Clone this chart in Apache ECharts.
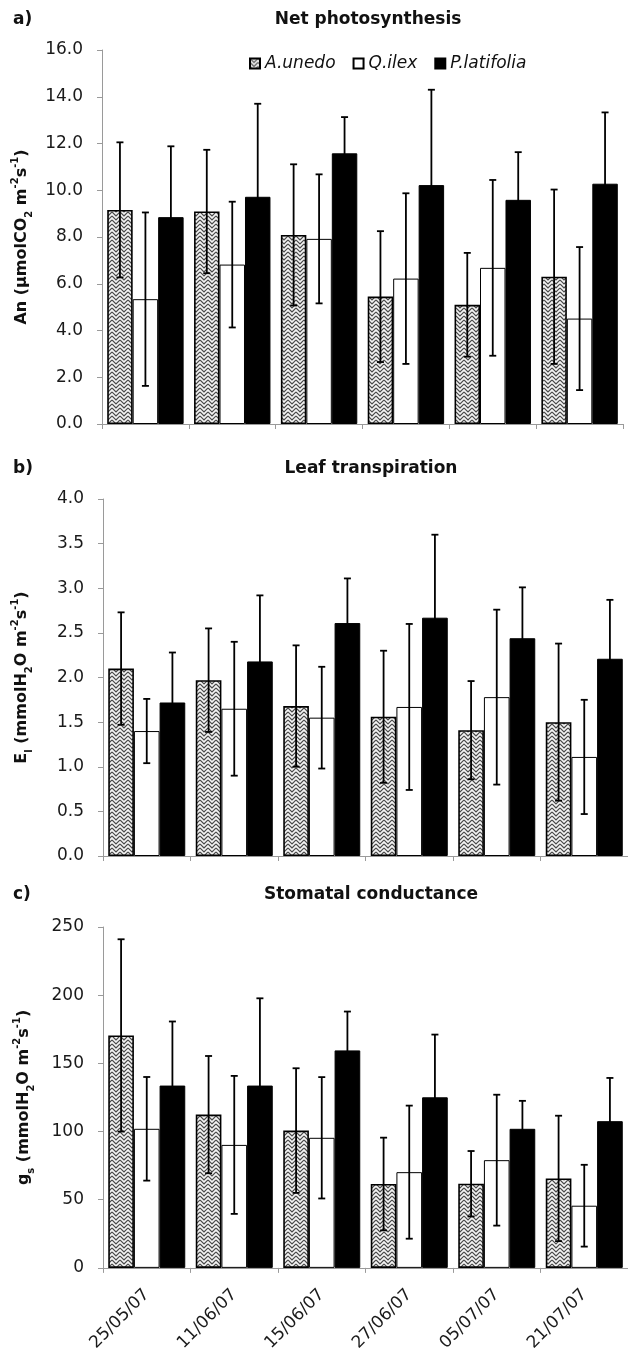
<!DOCTYPE html>
<html><head><meta charset="utf-8">
<script src="https://cdn.jsdelivr.net/npm/echarts@6/dist/echarts.min.js"></script>
<style>html,body{margin:0;padding:0;background:#fff}#c{width:628px;height:1354px}</style>
</head><body><div id="c"></div>
<script>
// ---- data ----
const categories = ['25/05/07', '11/06/07', '15/06/07', '27/06/07', '05/07/07', '21/07/07'];
const species = ['A.unedo', 'Q.ilex', 'P.latifolia'];

// Net photosynthesis (µmol CO2 m-2 s-1)
const an_unedo    = [9.16, 9.09, 8.09, 5.45, 5.10, 6.30];
const an_unedo_sd = [2.89, 2.64, 3.02, 2.80, 2.22, 3.73];
const an_ilex     = [5.34, 6.82, 7.92, 6.22, 6.68, 4.51];
const an_ilex_sd  = [3.71, 2.69, 2.76, 3.65, 3.76, 3.06];
const an_lat      = [8.85, 9.72, 11.58, 10.22, 9.59, 10.28];
const an_lat_sd   = [3.03, 3.98, 1.55, 4.08, 2.04, 3.05];

// Leaf transpiration (mmol H2O m-2 s-1)
const e_unedo    = [2.10, 1.97, 1.68, 1.56, 1.41, 1.50];
const e_unedo_sd = [0.63, 0.58, 0.68, 0.74, 0.55, 0.88];
const e_ilex     = [1.40, 1.65, 1.55, 1.67, 1.78, 1.11];
const e_ilex_sd  = [0.36, 0.75, 0.57, 0.93, 0.98, 0.64];
const e_lat      = [1.72, 2.18, 2.61, 2.67, 2.44, 2.21];
const e_lat_sd   = [0.56, 0.74, 0.50, 0.93, 0.57, 0.66];

// Stomatal conductance (mmol H2O m-2 s-1)
const g_unedo    = [170.5, 112.4, 100.7, 61.5, 61.7, 65.6];
const g_unedo_sd = [70.5, 43.0, 45.7, 34.0, 24.0, 46.0];
const g_ilex     = [102.0, 90.2, 95.4, 70.2, 79.0, 45.6];
const g_ilex_sd  = [38.0, 50.6, 44.5, 48.8, 48.0, 30.0];
const g_lat      = [133.7, 133.7, 159.5, 125.1, 102.0, 107.6];
const g_lat_sd   = [47.0, 64.0, 28.5, 46.0, 20.5, 31.7];

// axis ranges
const anAxis = {min: 0, max: 16, interval: 2};
const eAxis  = {min: 0, max: 4, interval: 0.5};
const gAxis  = {min: 0, max: 250, interval: 50};

// ---- styles ----
const FONT = '"DejaVu Sans", "Liberation Sans", sans-serif';
const GAP = 0.12;

function makeHatch() {
  const c = document.createElement('canvas');
  c.width = 8; c.height = 8;
  const x = c.getContext('2d');
  x.fillStyle = '#f4f4f4'; x.fillRect(0, 0, 8, 8);
  x.strokeStyle = '#4a4a4a'; x.lineWidth = 1.2;
  x.beginPath();
  for (let y = -8; y <= 16; y += 4) { x.moveTo(0, y); x.lineTo(4, y + 4); x.lineTo(8, y); }
  x.stroke();
  return c;
}
const hatch = makeHatch();
const barStyles = [
  {color: {image: hatch, repeat: 'repeat'}, borderColor: '#000', borderWidth: 1.6},
  {color: '#fff', borderColor: '#000', borderWidth: 1},
  {color: '#000', borderColor: '#000', borderWidth: 1}
];

function bars(gi, arrs) {
  return arrs.map((d, s) => ({
    type: 'bar', name: species[s], data: d, xAxisIndex: gi, yAxisIndex: gi,
    barGap: '0%', barCategoryGap: (GAP * 100) + '%', itemStyle: barStyles[s], z: 2, silent: true
  }));
}

function errs(gi, means, sds) {
  const data = [];
  means.forEach((arr, s) => arr.forEach((m, i) => data.push([i, s, m, sds[s][i]])));
  return {
    type: 'custom', xAxisIndex: gi, yAxisIndex: gi, data, z: 5, silent: true,
    encode: {x: 0, y: 2},
    renderItem(params, api) {
      const i = api.value(0), s = api.value(1), m = api.value(2), sd = api.value(3);
      const band = api.size([1, 0])[0];
      const bw = band * (1 - GAP) / 3;
      const cx = api.coord([i, 0])[0] + (s - 1) * bw;
      const yT = api.coord([i, m + sd])[1], yB = api.coord([i, m - sd])[1];
      const cap = 3.5;
      const st = {stroke: '#000', lineWidth: 1.8};
      return {type: 'group', children: [
        {type: 'line', shape: {x1: cx, y1: yT, x2: cx, y2: yB}, style: st},
        {type: 'line', shape: {x1: cx - cap, y1: yT, x2: cx + cap, y2: yT}, style: st},
        {type: 'line', shape: {x1: cx - cap, y1: yB, x2: cx + cap, y2: yB}, style: st}
      ]};
    }
  };
}

const richName = {
  n:   {fontSize: 16, fontWeight: 'bold', fontFamily: FONT, color: '#111', lineHeight: 24, verticalAlign: 'middle'},
  sub: {fontSize: 10, fontWeight: 'bold', fontFamily: FONT, color: '#111', lineHeight: 12, verticalAlign: 'bottom'},
  sup: {fontSize: 10, fontWeight: 'bold', fontFamily: FONT, color: '#111', lineHeight: 12, verticalAlign: 'top'}
};

function yAxis(gi, rng, name, gap, dec) {
  return Object.assign({
    type: 'value', gridIndex: gi, name, nameLocation: 'middle', nameRotate: 90, nameGap: gap,
    nameTextStyle: {rich: richName},
    axisLine: {show: true, lineStyle: {color: '#9a9a9a', width: 1}},
    axisTick: {show: true, length: 5, lineStyle: {color: '#9a9a9a'}},
    splitLine: {show: false},
    axisLabel: {fontSize: 17, fontFamily: FONT, color: '#1a1a1a', margin: 19,
      formatter: v => v.toFixed(dec)}
  }, rng);
}

function xAxis(gi, showLabels) {
  return {
    type: 'category', gridIndex: gi, data: categories,
    axisLine: {show: true, lineStyle: {color: '#9a9a9a', width: 1}},
    axisTick: {show: true, length: 5, lineStyle: {color: '#9a9a9a'}},
    axisLabel: {show: showLabels, rotate: 45, interval: 0, fontSize: 17, fontFamily: FONT, color: '#1a1a1a', margin: 24}
  };
}

function txt(x, y, t, align) {
  return {type: 'text', x, y, style: {text: t, fontFamily: FONT, fontSize: 17, fontWeight: 'bold',
    fill: '#111', textAlign: align, textVerticalAlign: 'middle'}};
}

const chart = echarts.init(document.getElementById('c'), null, {renderer: 'canvas'});
chart.setOption({
  animation: false,
  backgroundColor: '#fff',
  graphic: [
    txt(13, 20, 'a)', 'left'), txt(368, 20, 'Net photosynthesis', 'center'),
    txt(13, 469, 'b)', 'left'), txt(371, 469, 'Leaf transpiration', 'center'),
    txt(13, 895, 'c)', 'left'), txt(371, 895, 'Stomatal conductance', 'center')
  ],
  legend: {
    data: species, top: 50, left: 244, icon: 'rect', itemWidth: 10, itemHeight: 10, itemGap: 17,
    selectedMode: false,
    textStyle: {fontSize: 17, fontStyle: 'italic', fontFamily: FONT, color: '#111'}
  },
  grid: [
    {left: 102, right: 5, top: 50, height: 374},
    {left: 103, right: -6, top: 499, height: 357},
    {left: 103, right: -6, top: 927, height: 341}
  ],
  xAxis: [xAxis(0, false), xAxis(1, false), xAxis(2, true)],
  yAxis: [
    yAxis(0, anAxis, '{n|An (μmolCO}{sub|2}{n| m}{sup|-2}{n|s}{sup|-1}{n|)}', 60, 1),
    yAxis(1, eAxis, '{n|E}{sub|l}{n| (mmolH}{sub|2}{n|O m}{sup|-2}{n|s}{sup|-1}{n|)}', 69, 1),
    yAxis(2, gAxis, '{n|g}{sub|s}{n| (mmolH}{sub|2}{n|O m}{sup|-2}{n|s}{sup|-1}{n|)}', 67, 0)
  ],
  series: [
    ...bars(0, [an_unedo, an_ilex, an_lat]),
    errs(0, [an_unedo, an_ilex, an_lat], [an_unedo_sd, an_ilex_sd, an_lat_sd]),
    ...bars(1, [e_unedo, e_ilex, e_lat]),
    errs(1, [e_unedo, e_ilex, e_lat], [e_unedo_sd, e_ilex_sd, e_lat_sd]),
    ...bars(2, [g_unedo, g_ilex, g_lat]),
    errs(2, [g_unedo, g_ilex, g_lat], [g_unedo_sd, g_ilex_sd, g_lat_sd])
  ]
});
</script></body></html>
